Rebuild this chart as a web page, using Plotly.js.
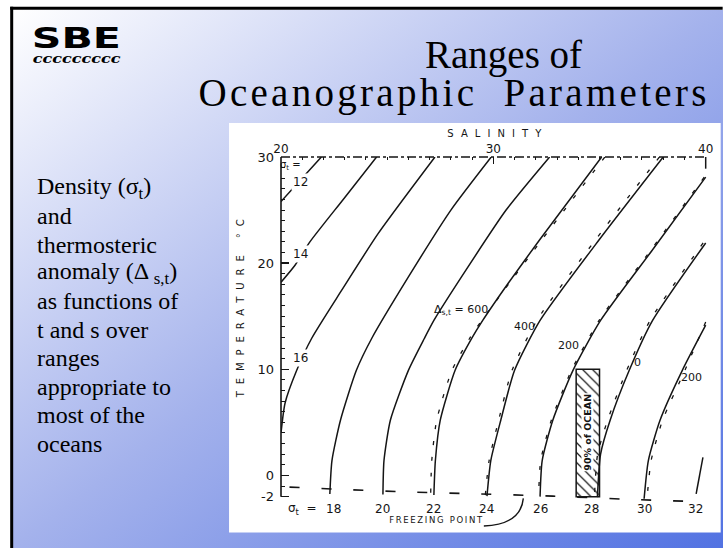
<!DOCTYPE html>
<html><head><meta charset="utf-8">
<script src="https://cdn.plot.ly/plotly-3.0.1.min.js"></script>
<style>
html,body{margin:0;padding:0;background:#fff;width:723px;height:548px;overflow:hidden;}
#slide{position:absolute;left:12px;top:10px;width:711px;height:538px;background:linear-gradient(to bottom right,#ffffff 0%,#a4b2ec 50%,#5272e2 100%);}
#chart{position:absolute;left:0;top:0;width:723px;height:548px;}
</style></head><body>
<div id="slide"></div>
<div id="chart"></div>
<script>
// ---------- data: [salinity, temperature] ----------
const salinityTicks = [20, 30, 40];
const temperatureTicks = [-2, 0, 10, 20, 30];

const sigma12 = [[21.9,30],[20.95,27.9],[20.0,25.8]];
const sigma14 = [[24.5,30],[22.93,26.0],[21.36,22.0],[20.66,19.8],[20.0,18.2]];
const sigma16 = [[27.25,30],[24.58,22.8],[22.86,17.45],[21.44,12.9],[20.74,9.9],[20.19,6.8],[20.0,4.0]];
const sigma18 = [[29.9,30],[28.0,25.0],[26.0,18.7],[24.27,12.9],[23.55,9.9],[22.8,5.2],[22.4,1.4],[22.3,-1.75]];
const sigma20 = [[32.65,30],[30.6,25.0],[28.5,18.7],[27.2,14.6],[26.75,12.9],[26.0,9.9],[25.15,5.2],[24.85,1.4],[24.8,-1.8]];
const sigma22 = [[35.1,30],[32.2,22.25],[30.7,18.1],[29.5,14.6],[28.98,12.9],[28.2,9.9],[27.5,5.2],[27.27,1.4],[27.2,-1.85]];
const sigma24 = [[38.0,30],[35.0,22.25],[32.2,14.6],[31.0,9.9],[30.35,5.2],[29.88,1.4],[29.7,-1.95]];
const sigma26 = [[40.0,28.1],[37.55,21.4],[35.05,14.6],[33.75,9.9],[32.8,5.2],[32.3,1.4],[32.2,-2.0]];
const sigma28 = [[40.0,21.9],[37.5,14.6],[36.4,9.9],[35.5,5.2],[35.05,2.0],[34.9,-2.05]];
const sigma30 = [[40.0,14.15],[38.9,9.9],[37.85,5.2],[37.3,1.4],[37.1,-2.2]];
const sigma32 = [[39.87,1.7],[39.55,-1.75]];

const delta600 = [[35.25,30],[32.3,22.25],[30.75,18.1],[29.45,14.6],[28.88,12.9],[28.05,9.9],[27.33,5.2],[27.1,1.4],[27.05,-1.7]];
const delta400 = [[37.82,30],[34.83,22.25],[32.05,14.6],[30.88,9.9],[30.25,5.2],[29.8,1.4],[29.62,-1.9]];
const delta200 = [[39.93,28.1],[37.48,21.4],[34.98,14.6],[33.68,9.9],[32.73,5.2],[32.23,1.4],[32.13,-1.95]];
const delta0 = [[39.88,21.9],[37.38,14.6],[36.28,9.9],[35.38,5.2],[34.91,2.0],[34.76,-2.0]];
const deltaMinus200 = [[40.0,14.45],[39.02,9.9],[37.97,5.2],[37.43,1.4],[37.24,-2.15]];

const freezingPoint = [[20.4,-1.10],[23.2,-1.35],[26.2,-1.58],[29.1,-1.73],[32.8,-1.95],[36.4,-2.26],[39.3,-2.45]];

const oceanSalinity = [33.9, 35.0];
const oceanTemperature = [-2, 10];

const bottomLabels = ['18','20','22','24','26','28','30','32'];
const bottomLabelSalinity = [22.45, 24.8, 27.2, 29.7, 32.2, 34.6, 37.1, 39.5];
const sideLabels = ['12','14','16'];
const sideLabelSalinity = [20.94, 20.94, 20.94];
const sideLabelTemperature = [27.6, 20.9, 11.1];
const deltaLabels = ['Δ<sub>s,t</sub> = 600','400','200','0','200'];
const deltaLabelSalinity = [28.5, 31.48, 33.55, 36.8, 39.34];
const deltaLabelTemperature = [15.6, 14.06, 12.26, 10.66, 9.25];

const slideTextLines = ['Density (σ<sub>t</sub>)','and','thermosteric','anomaly (Δ <sub>s,t</sub>)','as functions of','t and s over','ranges','appropriate to','most of the','oceans'];

// ---------- geometry ----------
const W = 723, H = 548;
const PL = 281, PT = 157;
const xr = [20, 40.25], yr = [-2.6, 30];
const kx = 21.25, ky = 10.6;
const PW = (xr[1]-xr[0])*kx, PH = (yr[1]-yr[0])*ky;
const fx = p => (p - PL)/PW;
const fy = p => (PT + PH - p)/PH;
const sx = s => (s - xr[0])/(xr[1]-xr[0]);
const ty = t => (t - yr[0])/(yr[1]-yr[0]);

const INK = '#151515';
const FIG = 'DejaVu Sans';
const SERIF = '"Liberation Serif", "Times New Roman", serif';

const traces = [];
traces.push({
  type:'bar',
  x:[(oceanSalinity[0]+oceanSalinity[1])/2],
  width:[oceanSalinity[1]-oceanSalinity[0]],
  base:[oceanTemperature[0]],
  y:[oceanTemperature[1]-oceanTemperature[0]],
  marker:{color:'#ffffff', line:{color:INK, width:1.5},
    pattern:{shape:'\\', fgcolor:'#222222', bgcolor:'#ffffff', size:7, solidity:0.18, fillmode:'replace'}},
  hoverinfo:'skip', showlegend:false
});
[sigma12,sigma14,sigma16,sigma18,sigma20,sigma22,sigma24,sigma26,sigma28,sigma30,sigma32].forEach(c=>{
  traces.push({type:'scatter', mode:'lines', x:c.map(p=>p[0]), y:c.map(p=>p[1]),
    line:{color:INK, width:1.5, shape:'spline', smoothing:0.6}, hoverinfo:'skip', showlegend:false});
});
[delta600,delta400,delta200,delta0,deltaMinus200].forEach(c=>{
  traces.push({type:'scatter', mode:'lines', x:c.map(p=>p[0]), y:c.map(p=>p[1]),
    line:{color:INK, width:1.3, dash:'4px,12px', shape:'spline', smoothing:0.6}, hoverinfo:'skip', showlegend:false});
});
traces.push({type:'scatter', mode:'lines', x:freezingPoint.map(p=>p[0]), y:freezingPoint.map(p=>p[1]),
  line:{color:INK, width:1.6, dash:'10px,22px', shape:'spline', smoothing:0.5}, hoverinfo:'skip', showlegend:false});

const ann = [];
const stretch = [];
function add(a, width, adjust){ if(width){ stretch.push({i:ann.length, w:width, adj:adjust||'spacing'}); } ann.push(a); }

// slide texts
add({xref:'paper', yref:'paper', x:fx(76), y:fy(38.6), text:'<b>SBE</b>', showarrow:false,
  font:{family:'DejaVu Sans', size:28, color:'#000'}, xanchor:'center', yanchor:'middle'}, 89, 'spacingAndGlyphs');
add({xref:'paper', yref:'paper', x:fx(76), y:fy(59), text:'<b><i>ccccccccc</i></b>', showarrow:false,
  font:{family:'DejaVu Serif', size:13, color:'#000'}, xanchor:'center', yanchor:'middle'}, 88, 'spacingAndGlyphs');
add({xref:'paper', yref:'paper', x:fx(504), y:fy(55.2), text:'Ranges of', showarrow:false,
  font:{family:SERIF, size:39, color:'#000'}, xanchor:'center', yanchor:'middle'});
add({xref:'paper', yref:'paper', x:fx(452.5), y:fy(93.5), text:'Oceanographic  Parameters', showarrow:false,
  font:{family:SERIF, size:39, color:'#000'}, xanchor:'center', yanchor:'middle'}, 508, 'spacing');
slideTextLines.forEach((t,i)=>{
  add({xref:'paper', yref:'paper', x:fx(35), y:fy(187.6 + i*28.4), text:t, showarrow:false,
    font:{family:SERIF, size:24, color:'#000'}, xanchor:'left', yanchor:'middle'});
});

// figure texts
add({xref:'paper', yref:'paper', x:fx(495), y:fy(134), text:'SALINITY', showarrow:false,
  font:{family:FIG, size:10, color:INK}, xanchor:'center', yanchor:'middle'}, 94, 'spacing');
add({xref:'paper', yref:'paper', x:fx(240), y:fy(309), text:'TEMPERATURE °C', textangle:-90, showarrow:false,
  font:{family:FIG, size:10, color:INK}, xanchor:'center', yanchor:'middle'}, 178, 'spacing');
add({xref:'paper', yref:'paper', x:fx(436.5), y:fy(520), text:'FREEZING POINT', showarrow:false,
  font:{family:FIG, size:8.5, color:INK}, xanchor:'center', yanchor:'middle'}, 93, 'spacing');
add({xref:'x', yref:'y', x:20.47, y:29.2, text:'σ<sub>t</sub> =', showarrow:false,
  font:{family:FIG, size:10, color:INK}, xanchor:'center', yanchor:'middle'});
sideLabels.forEach((t,i)=>{
  add({xref:'x', yref:'y', x:sideLabelSalinity[i], y:sideLabelTemperature[i], text:t, showarrow:false,
    font:{family:FIG, size:12, color:INK}, bgcolor:'#ffffff', borderpad:1, xanchor:'center', yanchor:'middle'});
});
deltaLabels.forEach((t,i)=>{
  add({xref:'x', yref:'y', x:deltaLabelSalinity[i], y:deltaLabelTemperature[i], text:t, showarrow:false,
    font:{family:FIG, size:11, color:INK}, xanchor:'center', yanchor:'middle'});
});
add({xref:'paper', yref:'paper', x:fx(303), y:fy(509), text:'σ<sub>t</sub>  =', showarrow:false,
  font:{family:FIG, size:12, color:INK}, xanchor:'center', yanchor:'middle'});
bottomLabels.forEach((t,i)=>{
  add({xref:'x', yref:'paper', x:bottomLabelSalinity[i], y:fy(509), text:t, showarrow:false,
    font:{family:FIG, size:12, color:INK}, xanchor:'center', yanchor:'middle'});
});
add({xref:'x', yref:'y', x:(oceanSalinity[0]+oceanSalinity[1])/2, y:4.1, text:'<b>90% of OCEAN</b>', textangle:-90, showarrow:false,
  font:{family:FIG, size:9.5, color:INK}, bgcolor:'#ffffff', borderpad:0, xanchor:'center', yanchor:'middle'});

const shapes = [
  {type:'rect', xref:'paper', yref:'paper', x0:fx(229), x1:fx(721), y0:fy(532), y1:fy(123), fillcolor:'#ffffff', line:{width:0}, layer:'below'},
  {type:'line', xref:'paper', yref:'paper', x0:fx(10), x1:fx(723), y0:fy(8.5), y1:fy(8.5), line:{color:'#000', width:3}},
  {type:'line', xref:'paper', yref:'paper', x0:fx(11.5), x1:fx(11.5), y0:fy(7), y1:fy(548), line:{color:'#000', width:3}},
  {type:'line', xref:'paper', yref:'paper', x0:sx(20), x1:sx(20), y0:ty(-2), y1:ty(30), line:{color:INK, width:1.6}},
  {type:'line', xref:'paper', yref:'paper', x0:sx(20), x1:sx(40), y0:ty(30), y1:ty(30), line:{color:INK, width:1.4, dash:'dashdot'}},
  {type:'line', xref:'paper', yref:'paper', x0:sx(40), x1:sx(40), y0:ty(30), y1:ty(28.9), line:{color:INK, width:1.5}},
  {type:'path', xref:'paper', yref:'paper',
   path:`M ${fx(484)},${fy(525.5)} Q ${fx(521)},${fy(524)} ${fx(523.5)},${fy(498)}`, line:{color:INK, width:1.4}}
];

const layout = {
  width:W, height:H,
  margin:{l:PL, r:W-PL-PW, t:PT, b:H-PT-PH, pad:0, autoexpand:false},
  paper_bgcolor:'rgba(0,0,0,0)', plot_bgcolor:'rgba(0,0,0,0)',
  showlegend:false, bargap:0,
  xaxis:{range:xr, side:'top', showgrid:false, zeroline:false, showline:false,
    tickmode:'array', tickvals:salinityTicks, ticktext:salinityTicks.map(String),
    ticks:'inside', ticklen:7, tickwidth:1.4, tickcolor:INK, ticklabelstandoff:1,
    tickfont:{family:FIG, size:12, color:INK},
    minor:{ticks:'inside', ticklen:3, tickwidth:1, tickcolor:INK, tickmode:'linear', tick0:20, dtick:1, showgrid:false},
    fixedrange:true},
  yaxis:{range:yr, showgrid:false, zeroline:false, showline:false,
    tickmode:'array', tickvals:temperatureTicks, ticktext:temperatureTicks.map(String),
    ticks:'inside', ticklen:8, tickwidth:1.4, tickcolor:INK, ticklabelstandoff:6,
    tickfont:{family:FIG, size:13, color:INK},
    minor:{ticks:'inside', ticklen:4, tickwidth:1, tickcolor:INK, tickmode:'linear', tick0:0, dtick:1, showgrid:false},
    fixedrange:true},
  annotations:ann,
  shapes:shapes
};

Plotly.newPlot('chart', traces, layout, {staticPlot:true, displayModeBar:false}).then(gd=>{
  stretch.forEach(s=>{
    const el = gd.querySelector(`.annotation[data-index="${s.i}"] text.annotation-text`);
    if(el){ el.setAttribute('textLength', s.w); el.setAttribute('lengthAdjust', s.adj); }
  });
});
</script></body></html>
